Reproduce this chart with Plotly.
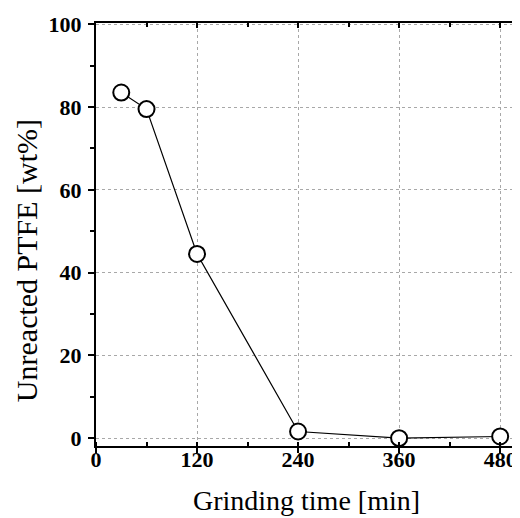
import plotly.graph_objects as go

grinding_time = [30, 60, 120, 240, 360, 480]
unreacted_ptfe = [83.5, 79.5, 44.5, 1.6, 0.0, 0.4]
x_ticks = [0, 120, 240, 360, 480]
y_ticks = [0, 20, 40, 60, 80, 100]

XR = [0, 500]
YR = [-1.9, 100.3]

fig = go.Figure()
fig.add_trace(go.Scatter(
    x=grinding_time, y=unreacted_ptfe, mode="lines+markers",
    line=dict(color="black", width=1.2),
    marker=dict(symbol="circle", size=16, color="white",
                line=dict(color="black", width=2)),
    showlegend=False, hoverinfo="x+y",
))
# invisible trace to anchor mirrored top/right axes
fig.add_trace(go.Scatter(
    x=grinding_time, y=unreacted_ptfe, xaxis="x2", yaxis="y2",
    mode="markers", marker=dict(opacity=0), showlegend=False, hoverinfo="skip",
))

tickfont = dict(family="Liberation Serif", size=22, color="black", weight="bold")
grid = dict(showgrid=True, gridcolor="#a8a8a8", gridwidth=1, griddash="dot")

# page body has an 8px default margin, so the figure is 8px smaller than the window
fig.update_layout(
    width=512, height=510,
    margin=dict(l=88, r=3, t=15, b=72),
    paper_bgcolor="white", plot_bgcolor="white",
    xaxis=dict(
        range=XR, tickvals=x_ticks, ticks="outside", ticklen=5, tickwidth=2,
        tickcolor="black", showline=True, linecolor="black", linewidth=2,
        tickfont=tickfont, zeroline=False, ticklabeloverflow="allow",
        ticklabelstandoff=-12, automargin=False,
        minor=dict(dtick=60, tick0=0, ticks="inside", ticklen=4, tickwidth=1.5,
                   tickcolor="black", showgrid=False),
        title=dict(text="Grinding time [min]",
                   font=dict(family="Liberation Serif", size=28, color="black"),
                   standoff=19),
        **grid,
    ),
    yaxis=dict(
        range=YR, tickvals=y_ticks, ticks="outside", ticklen=6, tickwidth=2,
        tickcolor="black", showline=True, linecolor="black", linewidth=2,
        tickfont=tickfont, zeroline=False, ticklabeloverflow="allow",
        ticklabelstandoff=2, automargin=False,
        minor=dict(dtick=10, tick0=0, ticks="outside", ticklen=4, tickwidth=1.5,
                   tickcolor="black", showgrid=False),
        **grid,
    ),
    xaxis2=dict(
        range=XR, overlaying="x", side="top", anchor="y2",
        tickvals=x_ticks, ticks="inside", ticklen=5, tickwidth=2, tickcolor="black",
        showticklabels=False, showline=True, linecolor="black", linewidth=2,
        showgrid=False, zeroline=False,
        minor=dict(dtick=60, tick0=0, ticks="inside", ticklen=4, tickwidth=1.5, tickcolor="black"),
    ),
    yaxis2=dict(
        range=YR, overlaying="y", side="right", anchor="x2",
        tickvals=y_ticks, ticks="inside", ticklen=5, tickwidth=2, tickcolor="black",
        showticklabels=False, showline=True, linecolor="black", linewidth=2,
        showgrid=False, zeroline=False,
        minor=dict(dtick=10, tick0=0, ticks="inside", ticklen=4, tickwidth=1.5, tickcolor="black"),
    ),
    annotations=[dict(
        text="Unreacted PTFE [wt%]", textangle=-90,
        xref="paper", yref="paper", x=0, y=0.437, xshift=-70,
        xanchor="center", yanchor="middle", showarrow=False,
        font=dict(family="Liberation Serif", size=30, color="black"),
    )],
)

fig.write_html("out.html")
